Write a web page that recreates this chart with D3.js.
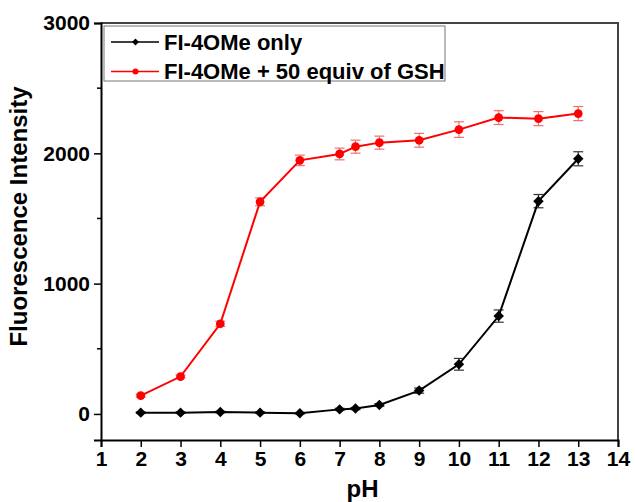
<!DOCTYPE html>
<html>
<head>
  <meta charset="utf-8">
  <title>Fluorescence vs pH</title>
  <script src="https://d3js.org/d3.v7.min.js"></script>
  <style>
    body { margin: 0; background: #fff; }
    svg text {
      font-family: "Liberation Sans", Arial, sans-serif;
      font-weight: bold;
      fill: #000;
    }
    .axis-title { font-size: 24px; }
    .legend text { font-size: 22px; }
  </style>
</head>
<body>
  <svg width="635" height="502"></svg>
  <script>
    // data
    const pH = [2, 3, 4, 5, 6, 7, 7.4, 8, 9, 10, 11, 12, 13];
    const onlyVals = [10, 10, 15, 10, 5, 35, 41, 69, 179, 381, 751, 1633, 1958];
    const onlyErr  = [5, 5, 5, 5, 5, 8, 8, 10, 20, 45, 47, 51, 54];
    const gshVals  = [141, 287, 692, 1628, 1946, 1995, 2051, 2082, 2100, 2182, 2274, 2266, 2305];
    const gshErr   = [12, 12, 20, 30, 40, 45, 50, 50, 53, 60, 53, 54, 54];
    const xTicks = d3.range(1, 15);
    const yMajor = [0, 1000, 2000, 3000];
    const yMinor = [500, 1500, 2500];
    const seriesNames = ["FI-4OMe only", "FI-4OMe + 50 equiv of GSH"];

    const svg = d3.select("svg");
    const mLeft = 101, mRight = 618, mTop = 23, mBottom = 440;

    const x = d3.scaleLinear().domain([1, 14]).range([mLeft, mRight]);
    const y = d3.scaleLinear().domain([-200, 3000]).range([mBottom, mTop]);

    // frame (top and right)
    svg.append("path")
      .attr("d", `M${mLeft},${mTop}H${mRight}V${mBottom}`)
      .attr("fill", "none")
      .attr("stroke", "#444")
      .attr("stroke-width", 2);

    // x axis
    const xAxis = svg.append("g")
      .attr("transform", `translate(0,${mBottom})`)
      .call(d3.axisBottom(x).tickValues(xTicks).tickSize(7).tickPadding(4).tickFormat(d3.format("d")));
    xAxis.select(".domain").attr("stroke-width", 2);
    xAxis.selectAll(".tick line").attr("stroke-width", 1.5);
    xAxis.selectAll(".tick text").style("font-size", "21px");

    // y axis
    const yAxis = svg.append("g")
      .attr("transform", `translate(${mLeft},0)`)
      .call(d3.axisLeft(y).tickValues(yMajor).tickSize(7).tickPadding(4).tickFormat(d3.format("d")));
    yAxis.select(".domain").attr("stroke-width", 2);
    yAxis.selectAll(".tick line").attr("stroke-width", 1.5);
    yAxis.selectAll(".tick text").style("font-size", "21px");
    yAxis.append("g").selectAll("line").data(yMinor).join("line")
      .attr("x1", -4).attr("x2", 0)
      .attr("y1", d => y(d)).attr("y2", d => y(d))
      .attr("stroke", "#000").attr("stroke-width", 1.5);

    // titles
    svg.append("text").attr("class", "axis-title")
      .attr("x", (mLeft + mRight) / 2 + 3).attr("y", 497)
      .attr("text-anchor", "middle").text("pH");
    svg.append("text").attr("class", "axis-title")
      .attr("transform", `translate(27,${(mTop + mBottom) / 2 - 15}) rotate(-90)`)
      .attr("text-anchor", "middle").text("Fluorescence Intensity");

    const line = d3.line().x(d => x(d[0])).y(d => y(d[1]));

    function drawSeries(vals, errs, color, errColor, marker) {
      const pts = pH.map((p, i) => [p, vals[i], errs[i]]);
      const g = svg.append("g");
      // error bars
      const eb = g.append("g").attr("stroke", errColor).attr("stroke-width", 1.2);
      pts.forEach(d => {
        const xp = x(d[0]), y1 = y(d[1] - d[2]), y2 = y(d[1] + d[2]);
        eb.append("line").attr("x1", xp).attr("x2", xp).attr("y1", y1).attr("y2", y2);
        eb.append("line").attr("x1", xp - 5).attr("x2", xp + 5).attr("y1", y1).attr("y2", y1);
        eb.append("line").attr("x1", xp - 5).attr("x2", xp + 5).attr("y1", y2).attr("y2", y2);
      });
      g.append("path").datum(pts)
        .attr("d", line).attr("fill", "none")
        .attr("stroke", color).attr("stroke-width", 2);
      g.selectAll(".pt").data(pts).join("path")
        .attr("class", "pt")
        .attr("transform", d => `translate(${x(d[0])},${y(d[1])})`)
        .attr("d", marker)
        .attr("fill", color);
    }

    const diamond = d3.symbol().type(d3.symbolDiamond2).size(70)();
    const circle = d3.symbol().type(d3.symbolCircle).size(60)();

    drawSeries(onlyVals, onlyErr, "#000", "#333", diamond);
    drawSeries(gshVals, gshErr, "#ff0000", "#f07070", circle);

    // legend
    const lg = svg.append("g").attr("class", "legend");
    lg.append("rect")
      .attr("x", 104).attr("y", 26).attr("width", 341).attr("height", 55)
      .attr("fill", "#fff").attr("stroke", "#777").attr("stroke-width", 1);
    const legColors = ["#000", "#ff0000"];
    seriesNames.forEach((name, i) => {
      const yy = 42 + i * 29.5;
      lg.append("line").attr("x1", 111).attr("x2", 159).attr("y1", yy).attr("y2", yy)
        .attr("stroke", legColors[i]).attr("stroke-width", 1.5);
      lg.append("path").attr("transform", `translate(135.5,${yy})`)
        .attr("d", i === 0 ? d3.symbol().type(d3.symbolDiamond2).size(30)() : d3.symbol().type(d3.symbolCircle).size(28)())
        .attr("fill", legColors[i]);
      lg.append("text").attr("x", 164).attr("y", yy + 7.5).text(name);
    });
  </script>
</body>
</html>
